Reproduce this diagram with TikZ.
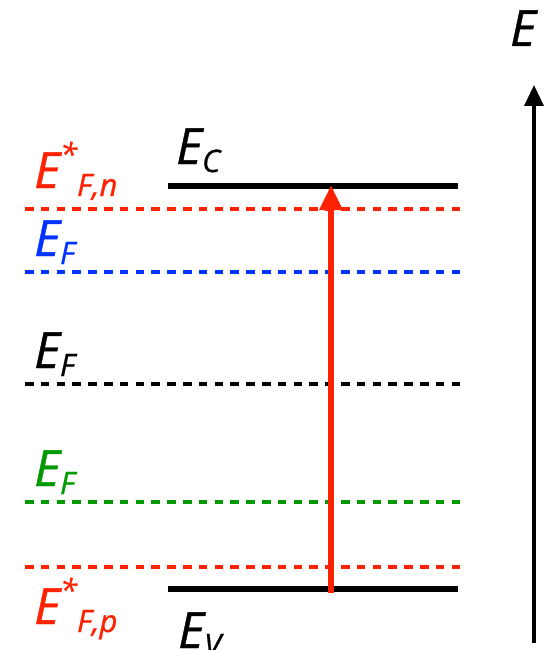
\documentclass[tikz,border=0pt]{standalone}
\usepackage{fontspec}
\setmainfont{Open Sans}[ItalicFeatures={FakeBold=0.8}]
\usetikzlibrary{arrows.meta}
\definecolor{Cquasired}{HTML}{FF2200}
\definecolor{Cdopeblue}{HTML}{0033FF}
\definecolor{Cdopegreen}{HTML}{009900}
\tikzset{
  band/.style={line width=5.5pt,black},
  fermi/.style={line width=4pt,dash pattern=on 8.5pt off 7.3pt},
  lbl/.style={font=\fontsize{50}{50}\selectfont\itshape,inner sep=0pt}
}
\newcommand{\sub}[1]{\raisebox{-0.3ex}{\fontsize{31}{31}\selectfont #1}}
\newcommand{\supsub}[2]{\raisebox{0.85ex}{\fontsize{31}{31}\selectfont #1}\raisebox{-0.3ex}{\fontsize{31}{31}\selectfont #2}}

\begin{document}
\begin{tikzpicture}[x=1pt,y=-1pt]
		\useasboundingbox (0,0) rectangle (548,650);
		% band edges
		\coordinate (cL) at (168,186); \coordinate (cR) at (458,186);
		\coordinate (vL) at (168,589); \coordinate (vR) at (458,589);
		\draw[band] (cL) -- (cR);
		\draw[band] (vL) -- (vR);
		\node[lbl,anchor=base west] (ec) at (176,164) {E\sub{C}};
		\node[lbl,anchor=base west] (ev) at (178,648) {E\sub{V}};
		% Fermi levels
		\coordinate (qnL) at (25,209); \coordinate (qnR) at (460,209);
		\coordinate (nL) at (25,272); \coordinate (nR) at (460,272);
		\coordinate (iL) at (25,384); \coordinate (iR) at (460,384);
		\coordinate (pL) at (25,502); \coordinate (pR) at (460,502);
		\coordinate (qpL) at (25,567); \coordinate (qpR) at (460,567);
		\draw[fermi,Cquasired] (qnL) -- (qnR);
		\draw[fermi,Cdopeblue] (nL) -- (nR);
		\draw[fermi,black] (iL) -- (iR);
		\draw[fermi,Cdopegreen] (pL) -- (pR);
		\draw[fermi,Cquasired] (qpL) -- (qpR);
		\node[lbl,anchor=base west,Cquasired] (efn) at (34,188) {E\supsub{*}{F,n}};
		\node[lbl,anchor=base west,Cdopeblue] (efb) at (34,256) {E\sub{F}};
		\node[lbl,anchor=base west] (efi) at (34,368) {E\sub{F}};
		\node[lbl,anchor=base west,Cdopegreen] (efg) at (34,486) {E\sub{F}};
		\node[lbl,anchor=base west,Cquasired] (efp) at (34,624) {E\supsub{*}{F,p}};
		% excitation
		\coordinate (exB) at (331,593); \coordinate (exT) at (331,185);
		\draw[line width=6pt,Cquasired,-{Triangle[length=25pt,width=22pt]}] (exB) -- (exT);
		% energy axis
		\coordinate (axB) at (534,643); \coordinate (axT) at (534,85);
		\draw[line width=3.5pt,-{Triangle[length=21pt,width=19pt]}] (axB) -- (axT);
		\node[lbl,anchor=base] (eax) at (523,46) {E};
	\end{tikzpicture}
\end{document}
